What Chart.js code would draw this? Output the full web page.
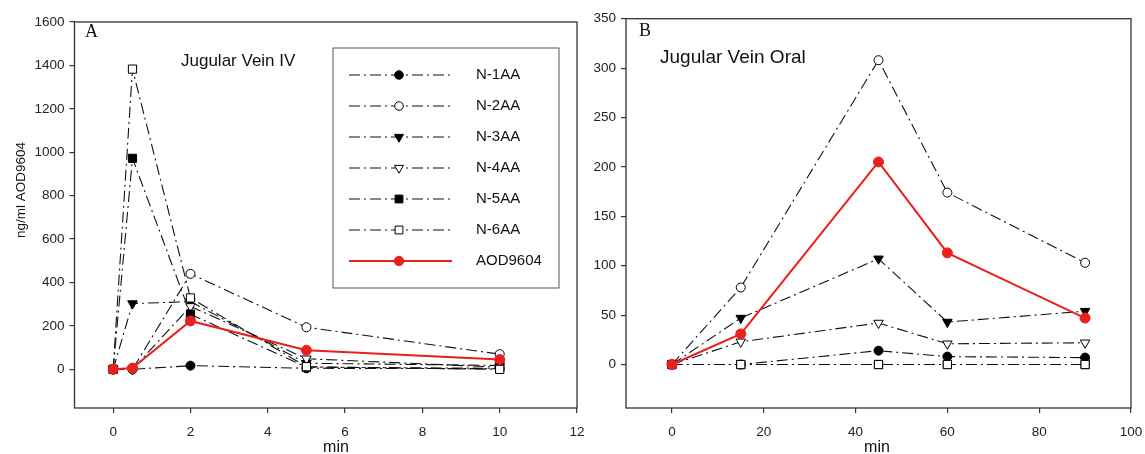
<!DOCTYPE html>
<html>
<head>
<meta charset="utf-8">
<script src="https://cdn.jsdelivr.net/npm/chart.js@4/dist/chart.umd.min.js"></script>
<style>
  body { margin: 0; background: #fff; width: 1145px; height: 454px; position: relative; overflow: hidden; }
  #ivChart { position: absolute; left: 0; top: 0; }
  #oralChart { position: absolute; left: 580px; top: 0; }
</style>
</head>
<body>
<canvas id="ivChart" width="600" height="454"></canvas>
<canvas id="oralChart" width="565" height="454"></canvas>
<script>
// sampling times (min)
const ivTimes = [0, 0.5, 2, 5, 10];
const oralTimes = [0, 15, 45, 60, 90];
const seriesNames = ['N-1AA', 'N-2AA', 'N-3AA', 'N-4AA', 'N-5AA', 'N-6AA', 'AOD9604'];

// tick labels
const ivXTicks = [0, 2, 4, 6, 8, 10, 12];
const ivYTicks = [0, 200, 400, 600, 800, 1000, 1200, 1400, 1600];
const oralXTicks = [0, 20, 40, 60, 80, 100];
const oralYTicks = [0, 50, 100, 150, 200, 250, 300, 350];

// Jugular Vein IV, ng/ml
const ivN1AA = [0, 0, 17, 5, 3];
const ivN2AA = [0, 0, 440, 194, 70];
const ivN3AA = [0, 303, 312, 28, 18];
const ivN4AA = [0, 0, 290, 49, 10];
const ivN5AA = [0, 972, 254, 10, 5];
const ivN6AA = [0, 1383, 329, 12, 0];
const ivAOD = [0, 6, 223, 88, 45];

// Jugular Vein Oral, ng/ml
const oralN1AA = [0, 0, 14, 8, 7];
const oralN2AA = [0, 78, 308, 174, 103];
const oralN3AA = [0, 47, 107, 43, 54];
const oralN4AA = [0, 23, 42, 21, 22];
const oralN5AA = [0, 0, 0, 0, 0];
const oralN6AA = [0, 0, 0, 0, 0];
const oralAOD = [0, 31, 205, 113, 47];

const sansFont = '"Liberation Sans", Arial, sans-serif';
const dashDot = [11, 4, 2, 4];
const red = '#e8211d';

// marker look for each series, same order as seriesNames
const markers = [
  { style: 'circle', fill: '#000', rot: 0, r: 4.5 },
  { style: 'circle', fill: '#fff', rot: 0, r: 4.5 },
  { style: 'triangle', fill: '#000', rot: 180, r: 5.5 },
  { style: 'triangle', fill: '#fff', rot: 180, r: 5.5 },
  { style: 'rect', fill: '#000', rot: 0, r: 5.8 },
  { style: 'rect', fill: '#fff', rot: 0, r: 5.8 },
  { style: 'circle', fill: red, rot: 0, r: 5 }
];

function toPoints(xs, ys) {
  return xs.map((x, i) => ({ x: x, y: ys[i] }));
}

function buildDatasets(xs, allValues) {
  return allValues.map((vals, i) => {
    const m = markers[i];
    const isRed = i === allValues.length - 1;
    return {
      label: seriesNames[i],
      data: toPoints(xs, vals),
      borderColor: isRed ? red : '#111',
      borderWidth: isRed ? 2 : 1.1,
      borderDash: isRed ? [] : dashDot,
      pointStyle: m.style,
      pointRotation: m.rot,
      pointRadius: m.r,
      pointHoverRadius: m.r,
      pointBackgroundColor: m.fill,
      pointBorderColor: isRed ? red : '#000',
      pointBorderWidth: 1,
      order: -i, // later series drawn on top
      tension: 0
    };
  });
}

// frame, panel letter, panel title and axis titles
const panelText = {
  id: 'panelText',
  afterDraw(chart, args, o) {
    const { ctx, chartArea: a } = chart;
    ctx.save();
    ctx.strokeStyle = '#333';
    ctx.lineWidth = 1.3;
    ctx.strokeRect(a.left, a.top, a.right - a.left, a.bottom - a.top);
    ctx.fillStyle = '#111';
    ctx.textBaseline = 'alphabetic';
    ctx.font = '18px "Liberation Serif", "Times New Roman", serif';
    ctx.fillText(o.letter, o.letterX, o.letterY);
    ctx.font = o.titleSize + 'px ' + sansFont;
    ctx.fillText(o.title, o.titleX, o.titleY);
    ctx.textAlign = 'center';
    ctx.font = '16px ' + sansFont;
    ctx.fillText(o.xTitle, o.xTitleX, o.xTitleY);
    if (o.yTitle) {
      ctx.translate(o.yTitleX, o.yTitleY);
      ctx.rotate(-Math.PI / 2);
      ctx.textBaseline = 'middle';
      ctx.font = '13.5px ' + sansFont;
      ctx.fillText(o.yTitle, 0, 0);
    }
    ctx.restore();
  }
};

// legend box drawn from the datasets
const boxLegend = {
  id: 'boxLegend',
  afterDraw(chart, args, o) {
    if (!o.show) return;
    const ctx = chart.ctx;
    ctx.save();
    ctx.strokeStyle = '#555';
    ctx.lineWidth = 1;
    ctx.strokeRect(o.x, o.y, o.w, o.h);
    chart.data.datasets.forEach((ds, i) => {
      const y = o.rowY0 + i * o.rowGap;
      ctx.beginPath();
      ctx.setLineDash(ds.borderDash);
      ctx.strokeStyle = ds.borderColor;
      ctx.lineWidth = ds.borderWidth;
      ctx.moveTo(o.lineX0, y);
      ctx.lineTo(o.lineX1, y);
      ctx.stroke();
      ctx.setLineDash([]);
      ctx.fillStyle = ds.pointBackgroundColor;
      ctx.strokeStyle = ds.pointBorderColor;
      ctx.lineWidth = 1;
      Chart.helpers.drawPoint(ctx, {
        pointStyle: ds.pointStyle,
        rotation: ds.pointRotation,
        radius: ds.pointRadius * 0.95,
        borderWidth: 1
      }, o.markX, y);
      ctx.fillStyle = '#111';
      ctx.font = '15px ' + sansFont;
      ctx.textBaseline = 'middle';
      ctx.fillText(ds.label, o.textX, y);
    });
    ctx.restore();
  }
};

function axis(min, max, tickValues, pad, fit) {
  return {
    type: 'linear',
    min: min,
    max: max,
    afterBuildTicks: s => { s.ticks = tickValues.map(v => ({ value: v })); },
    ticks: {
      maxRotation: 0,
      color: '#222',
      padding: pad,
      callback: v => String(v),
      font: { family: sansFont, size: 13.5 }
    },
    grid: { drawOnChartArea: false, drawTicks: true, tickLength: 5, color: '#333', lineWidth: 1.2 },
    border: { display: false },
    afterFit: fit
  };
}

function makeChart(canvasId, xs, values, cfg) {
  return new Chart(document.getElementById(canvasId), {
    type: 'line',
    plugins: [panelText, boxLegend],
    data: { datasets: buildDatasets(xs, values) },
    options: {
      responsive: false,
      animation: false,
      devicePixelRatio: 1,
      layout: { padding: cfg.padding },
      scales: {
        x: axis(cfg.xMin, cfg.xMax, cfg.xTicks, 11, s => {
          s.height = 46;
          s.paddingLeft = 0;
          s.paddingRight = 0;
        }),
        y: axis(cfg.yMin, cfg.yMax, cfg.yTicks, 5, s => {
          s.width = cfg.yWidth;
          s.paddingTop = 0;
          s.paddingBottom = 0;
        })
      },
      plugins: {
        legend: { display: false },
        tooltip: { enabled: false },
        panelText: cfg.text,
        boxLegend: cfg.legend
      }
    }
  });
}

makeChart('ivChart', ivTimes,
  [ivN1AA, ivN2AA, ivN3AA, ivN4AA, ivN5AA, ivN6AA, ivAOD], {
    xMin: -1, xMax: 12, xTicks: ivXTicks,
    yMin: -178, yMax: 1600, yTicks: ivYTicks,
    yWidth: 74.5,
    padding: { left: 0, top: 22, right: 23, bottom: 0 },
    text: {
      letter: 'A', letterX: 85, letterY: 37,
      title: 'Jugular Vein IV', titleSize: 17, titleX: 181, titleY: 66,
      xTitle: 'min', xTitleX: 336, xTitleY: 452,
      yTitle: 'ng/ml AOD9604', yTitleX: 21, yTitleY: 190
    },
    legend: {
      show: true, x: 333, y: 48, w: 226, h: 240,
      rowY0: 75, rowGap: 31, lineX0: 349, lineX1: 452, markX: 399, textX: 476
    }
  });

makeChart('oralChart', oralTimes,
  [oralN1AA, oralN2AA, oralN3AA, oralN4AA, oralN5AA, oralN6AA, oralAOD], {
    xMin: -10, xMax: 100, xTicks: oralXTicks,
    yMin: -44, yMax: 350, yTicks: oralYTicks,
    yWidth: 46,
    padding: { left: 0, top: 18.7, right: 14, bottom: 0 },
    text: {
      letter: 'B', letterX: 59, letterY: 36,
      title: 'Jugular Vein Oral', titleSize: 19, titleX: 80, titleY: 63,
      xTitle: 'min', xTitleX: 297, xTitleY: 452
    },
    legend: { show: false }
  });
</script>
</body>
</html>
